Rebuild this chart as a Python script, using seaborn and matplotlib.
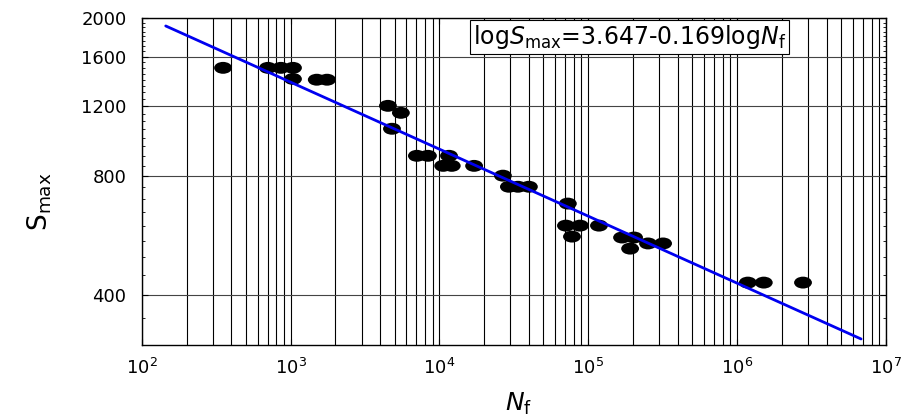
import numpy as np
import pandas as pd
import seaborn as sns
import matplotlib.pyplot as plt
from matplotlib.path import Path
from matplotlib.transforms import Affine2D
from matplotlib.ticker import FixedLocator, NullFormatter, LogLocator

# fatigue life data
cycles = [352, 705, 861, 1038, 1038, 1500, 1758,
          4510, 5510, 4800, 7060, 8370, 11600, 10600, 12100, 17100,
          26700, 29300, 33700, 39900, 72900, 70800, 87900, 77700,
          118000, 168600, 203000, 191000, 252000, 318000,
          1.18e6, 1.51e6, 2.77e6]
stress = [1500, 1500, 1500, 1500, 1406, 1400, 1400,
          1203, 1155, 1053, 900, 900, 900, 849, 849, 849,
          802, 752, 752, 752, 682, 600, 600, 563,
          600, 560, 560, 525, 541, 541,
          431, 431, 431]

# fitted line  logS = a + b logN
fit_a = 3.647
fit_b = -0.169
fit_range = [145, 6.8e6]

y_ticks = [400, 800, 1200, 1600, 2000]

df = pd.DataFrame({"N": cycles, "S": stress})
line_n = np.array(fit_range)
line_df = pd.DataFrame({"N": line_n, "S": 10 ** (fit_a + fit_b * np.log10(line_n))})

sns.set_style("ticks")
plt.rcParams["font.family"] = ["DejaVu Sans"]
plt.rcParams["mathtext.fontset"] = "custom"
plt.rcParams["mathtext.rm"] = "DejaVu Sans"
plt.rcParams["mathtext.it"] = "DejaVu Sans:italic"
plt.rcParams["text.color"] = "black"
plt.rcParams["axes.labelcolor"] = "black"
plt.rcParams["xtick.color"] = "black"
plt.rcParams["ytick.color"] = "black"

fig = plt.figure(figsize=(9.02, 4.16), dpi=100)
ax = fig.add_axes([141.7 / 902, 1 - 345 / 416, (886 - 141.7) / 902, (345 - 18.3) / 416])

ellipse = Path.unit_circle().transformed(Affine2D().scale(1.5, 1.0))

ax.set_xscale("log")
ax.set_yscale("log")

sns.scatterplot(data=df, x="N", y="S", ax=ax, marker=ellipse, s=165,
                color="black", edgecolor="none", zorder=3)
sns.lineplot(data=line_df, x="N", y="S", ax=ax, color="#0000f0",
             linewidth=2, zorder=4)

ax.set_xlim(1e2, 1e7)
ax.set_ylim(300, 2000)

# vertical grid at every decade subdivision
ax.xaxis.set_major_locator(LogLocator(base=10, numticks=10))
ax.xaxis.set_minor_locator(LogLocator(base=10, subs=np.arange(2, 10), numticks=50))
ax.xaxis.set_minor_formatter(NullFormatter())
ax.grid(True, which="both", axis="x", color="black", linewidth=0.8)

ax.yaxis.set_major_locator(FixedLocator(y_ticks))
ax.yaxis.set_minor_locator(FixedLocator([v for v in range(300, 2001, 50) if v not in y_ticks]))
ax.yaxis.set_minor_formatter(NullFormatter())
ax.set_yticklabels([str(v) for v in y_ticks])
ax.grid(True, which="major", axis="y", color="#444444", linewidth=0.8)

ax.tick_params(axis="both", which="major", direction="in", labelsize=13,
               length=4, top=True, right=True, pad=9)
ax.tick_params(axis="both", which="minor", direction="in", length=2,
               top=True, right=True)
ax.tick_params(axis="y", pad=11)
for sp in ax.spines.values():
    sp.set_linewidth(1)
    sp.set_color("black")

ax.set_xlabel(r"$\mathit{N}_\mathrm{f}$", fontsize=18)
ax.xaxis.set_label_coords(0.506, -0.14)
ax.set_ylabel(r"$\mathrm{S}_\mathrm{max}$", fontsize=19)
ax.yaxis.set_label_coords(-0.118, 0.44)

ax.text(0.445, 0.985,
        r"log$\mathit{S}_\mathrm{max}$=3.647-0.169log$\mathit{N}_\mathrm{f}$",
        transform=ax.transAxes, fontsize=17, ha="left", va="top", zorder=5,
        bbox=dict(facecolor="white", edgecolor="black", linewidth=0.8, pad=2))

fig.savefig("out.png", dpi=100)
